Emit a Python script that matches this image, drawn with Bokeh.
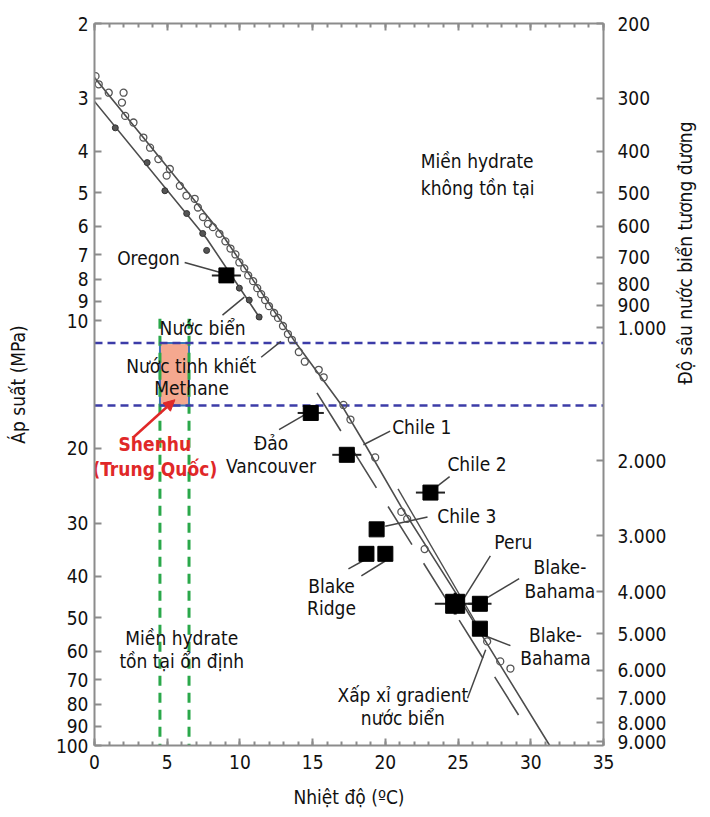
import math
from bokeh.plotting import figure
from bokeh.models import (Range1d, LogAxis, LinearAxis, FixedTicker, PrintfTickFormatter,
                          ColumnDataSource, Arrow, NormalHead, InlineStyleSheet)
from bokeh.core.properties import value
from bokeh.embed import file_html
from bokeh.resources import INLINE

FONT = "'DejaVu Sans Condensed', 'Liberation Sans Narrow', Roboto, sans-serif"
FS = "19px"

# ---------------- data ----------------
temp_ticks = [0, 5, 10, 15, 20, 25, 30, 35]
pressure_ticks = [2, 3, 4, 5, 6, 7, 8, 9, 10, 20, 30, 40, 50, 60, 70, 80, 90, 100]
depth_labels = ["200", "300", "400", "500", "600", "700", "800", "900", "1.000",
                "2.000", "3.000", "4.000", "5.000", "6.000", "7.000", "8.000", "9.000"]
depth_equiv_pressure = [2, 3, 4, 5, 6, 7.1, 8.2, 9.2, 10.4, 21.4, 32.1, 43.5, 54.6,
                        66.6, 77.4, 88.5, 98]

# pure water - methane stability curve
pure_T = [0, 8.73, 13.85, 16.98, 18.62, 21.08, 25.1, 31.3]
pure_P = [2.68, 6.24, 11.3, 15.8, 19.6, 27.4, 45.2, 100]
pure_branch_T = [20.87, 26.33]
pure_branch_P = [24.9, 52.2]
pure_obs_T = [0.07, 0.29, 0.98, 2.0, 1.89, 2.11, 2.68, 3.36, 3.82, 4.39, 5.18, 4.96, 5.87,
              6.32, 6.89, 7.11, 7.46, 7.80, 8.14, 8.59, 9.0, 9.35, 9.69, 9.96, 10.3, 10.57,
              10.91, 11.19, 11.46, 11.73, 12.0, 12.35, 12.62, 12.96, 13.3, 13.57, 14.05,
              14.46, 15.42, 15.76, 17.12, 17.6, 19.3, 21.1, 21.5, 22.7, 27.0, 27.9, 28.6]
pure_obs_P = [2.66, 2.78, 2.91, 2.91, 3.07, 3.30, 3.42, 3.71, 3.92, 4.17, 4.40, 4.56, 4.82,
              5.08, 5.17, 5.42, 5.71, 5.92, 6.03, 6.25, 6.51, 6.77, 6.99, 7.30, 7.54, 7.83,
              8.08, 8.39, 8.67, 8.95, 9.25, 9.60, 9.86, 10.3, 10.76, 11.1, 11.86,
              12.5, 13.06, 13.6, 15.8, 17.1, 21.0, 28.2, 29.3, 34.5, 56.9, 63.4, 65.9]

# seawater curve
sea_T = [0, 7.71, 11.46]
sea_P = [3.05, 6.41, 9.97]
sea_obs_T = [1.43, 3.62, 4.84, 6.34, 7.44, 7.71, 9.96, 10.64, 11.32]
sea_obs_P = [3.52, 4.25, 4.95, 5.60, 6.24, 6.84, 8.39, 8.95, 9.81]

# approximate seawater gradient (long dashes)
grad_T = [15.3, 29.3]
grad_P = [14.8, 86.3]

# hydrate sites
site_names = ["Oregon", "Đảo Vancouver", "Chile 1", "Chile 2", "Chile 3", "Blake Ridge a",
              "Blake Ridge b", "Peru", "Blake-Bahama 1", "Blake-Bahama 2"]
site_T = [9.07, 14.87, 17.35, 23.1, 19.4, 18.7, 20.0, 24.8, 26.5, 26.5]
site_P = [7.83, 16.5, 20.7, 25.4, 31.0, 35.4, 35.4, 46.4, 46.4, 53.1]
site_T_err = [1.0, 0.9, 1.0, 1.0, 0.0, 0.0, 0.0, 1.4, 0.8, 0.0]
peru_P_low, peru_P_high = 43.7, 49.2

# Shenhu (China) window
shenhu_T = [4.5, 6.5]
shenhu_P = [11.3, 15.85]
shenhu_line_top = 9.9

# leader lines (T0, P0, T1, P1)
lead_T0 = [6.2, 8.8, 11.46, 12.69, 20.33, 24.42, 19.99, 17.46, 18.35, 27.22, 29.2, 28.6, 25.65]
lead_P0 = [7.30, 9.71, 12.2, 18.06, 18.2, 23.3, 30.5, 38.4, 39.9, 35.8, 40.5, 58.2, 77.4]
lead_T1 = [8.6, 10.3, 12.82, 14.53, 18.49, 23.6, 22.9, 18.69, 19.99, 25.3, 26.9, 26.8, 26.9]
lead_P1 = [7.70, 8.81, 11.2, 16.6, 19.6, 24.5, 29.0, 36.4, 36.8, 45.6, 45.1, 55.1, 59.5]

# text labels
lab_text = ["Miền hydrate", "không tồn tại", "Oregon", "Nước biển", "Nước tinh khiết",
            "Methane", "Đảo", "Vancouver", "Chile 1", "Chile 2", "Chile 3", "Peru",
            "Blake-", "Bahama", "Blake-", "Bahama", "Blake", "Ridge", "Miền hydrate",
            "tồn tại ổn định", "Xấp xỉ gradient", "nước biển"]
lab_T = [22.44, 22.44, 5.87, 7.43, 6.65, 6.68, 12.14, 12.14, 22.5, 26.3, 25.6, 28.8,
         32.0, 32.0, 31.7, 31.7, 16.3, 16.3, 6.0, 6.0, 21.2, 21.2]
lab_P = [4.21, 4.87, 7.14, 10.4, 12.8, 14.4, 19.4, 22.0, 17.77, 21.8, 28.9, 33.2,
         38.0, 43.2, 55.1, 62.4, 42.1, 47.6, 56.0, 63.4, 76.2, 86.2]
lab_align = ["left", "left", "right", "center", "center", "center", "center", "center",
             "center", "center", "center", "center", "center", "center", "center", "center",
             "center", "center", "center", "center", "center", "center"]

shenhu_text = ["Shenhu", "(Trung Quốc)"]
shenhu_text_T = [4.15, 4.15]
shenhu_text_P = [19.57, 22.4]
arrow_T = [2.66, 5.53]
arrow_P = [18.85, 15.36]

# ---------------- figure ----------------
p = figure(width=710, height=817, y_axis_type="log", output_backend="svg",
           toolbar_location=None, x_range=Range1d(0, 35), y_range=Range1d(100, 2),
           min_border_left=94, min_border_right=102, min_border_top=23, min_border_bottom=72)
p.xgrid.visible = False
p.ygrid.visible = False
p.outline_line_color = None
p.background_fill_color = "white"
p.border_fill_color = "white"
p.stylesheets = [InlineStyleSheet(
    css=":host { outline: 3px solid #dcdcdc; outline-offset: -8px; }")]

AX = "#8c8c8c"


def style_axis(ax):
    ax.axis_line_color = AX
    ax.axis_line_width = 2
    ax.major_tick_line_color = AX
    ax.minor_tick_line_color = AX
    ax.major_tick_line_width = 2
    ax.minor_tick_line_width = 2
    ax.major_tick_in = 7
    ax.major_tick_out = 0
    ax.minor_tick_in = 4
    ax.minor_tick_out = 0
    ax.major_label_text_font = FONT
    ax.major_label_text_font_size = FS
    ax.major_label_text_color = "#111111"
    ax.axis_label_text_font = FONT
    ax.axis_label_text_font_size = FS
    ax.axis_label_text_font_style = "normal"
    ax.axis_label_text_color = "#111111"


xa = p.xaxis[0]
xa.ticker = FixedTicker(ticks=temp_ticks, minor_ticks=list(range(0, 36)))
xa.axis_label = "Nhiệt độ (ºC)"
style_axis(xa)
xa.major_label_standoff = 9
xa.axis_label_standoff = 14

ya = p.yaxis[0]
ya.ticker = FixedTicker(ticks=pressure_ticks)
ya.formatter = PrintfTickFormatter(format="%d")
ya.axis_label = "Áp suất (MPa)"
style_axis(ya)
ya.minor_tick_line_color = None
ya.major_label_standoff = 6
ya.axis_label_standoff = 24

top = LinearAxis(ticker=FixedTicker(ticks=temp_ticks, minor_ticks=list(range(0, 36))))
style_axis(top)
top.major_label_overrides = {t: "" for t in temp_ticks}
top.major_label_standoff = 0
p.add_layout(top, "above")

right = LogAxis(ticker=FixedTicker(ticks=depth_equiv_pressure))
right.major_label_overrides = {v: s for v, s in zip(depth_equiv_pressure, depth_labels)}
right.axis_label = "Độ sâu nước biển tương đương"
style_axis(right)
right.minor_tick_line_color = None
right.major_label_standoff = 14
right.axis_label_standoff = 16
right.axis_label_orientation = math.pi / 2
p.add_layout(right, "right")

# Shenhu window
p.quad(left=[shenhu_T[0]], right=[shenhu_T[1]], top=[shenhu_P[0]], bottom=[shenhu_P[1]],
       fill_color="#f5a88f", line_color="#3a76b8", line_width=2)
for t in shenhu_T:
    p.line([t, t], [shenhu_line_top, 100], line_color="#2aa84a", line_width=3,
           line_dash="10 7")
for pp in shenhu_P:
    p.line([0, 35], [pp, pp], line_color="#3c3ca8", line_width=2.5, line_dash="8 5")

# curves
CURVE = "#4d4d4d"
p.line(pure_T, pure_P, line_color=CURVE, line_width=1.6)
p.line(pure_branch_T, pure_branch_P, line_color=CURVE, line_width=1.4)
p.line(sea_T, sea_P, line_color=CURVE, line_width=1.6)
p.line(grad_T, grad_P, line_color=CURVE, line_width=1.6, line_dash="45 22")
p.scatter(pure_obs_T, pure_obs_P, size=7, marker="circle", fill_color=None,
          line_color="#555555", line_width=1.3)
p.scatter(sea_obs_T, sea_obs_P, size=6, marker="circle", fill_color="#555555",
          line_color="#333333", line_width=1)

# leader lines
p.segment(lead_T0, lead_P0, lead_T1, lead_P1, line_color="#444444", line_width=1.5)

# sites
site_src = ColumnDataSource(dict(
    T=site_T, P=site_P,
    lo=[t - e for t, e in zip(site_T, site_T_err)],
    hi=[t + e for t, e in zip(site_T, site_T_err)]))
p.segment("lo", "P", "hi", "P", source=site_src, line_color="#222222", line_width=2)
p.segment([site_T[7]], [peru_P_low], [site_T[7]], [peru_P_high], line_color="#111111",
          line_width=3)
p.scatter("T", "P", source=site_src, marker="square", size=15, fill_color="black",
          line_color="black")
p.scatter([site_T[7]], [site_P[7]], marker="square", size=19, fill_color="black",
          line_color="black")

# texts
p.text(lab_T, lab_P, text=lab_text, text_align=lab_align, text_baseline="middle",
       text_font=value(FONT), text_font_size=FS, text_color="#111111")
p.text(shenhu_text_T, shenhu_text_P, text=shenhu_text, text_align="center",
       text_baseline="middle", text_font=value(FONT), text_font_size=FS,
       text_font_style="bold", text_color="#e02828")
p.add_layout(Arrow(end=NormalHead(size=11, fill_color="#e02828", line_color="#e02828"),
                   x_start=arrow_T[0], y_start=arrow_P[0], x_end=arrow_T[1],
                   y_end=arrow_P[1], line_color="#e02828", line_width=2.5))

open("out.html", "w").write(file_html(p, INLINE))
